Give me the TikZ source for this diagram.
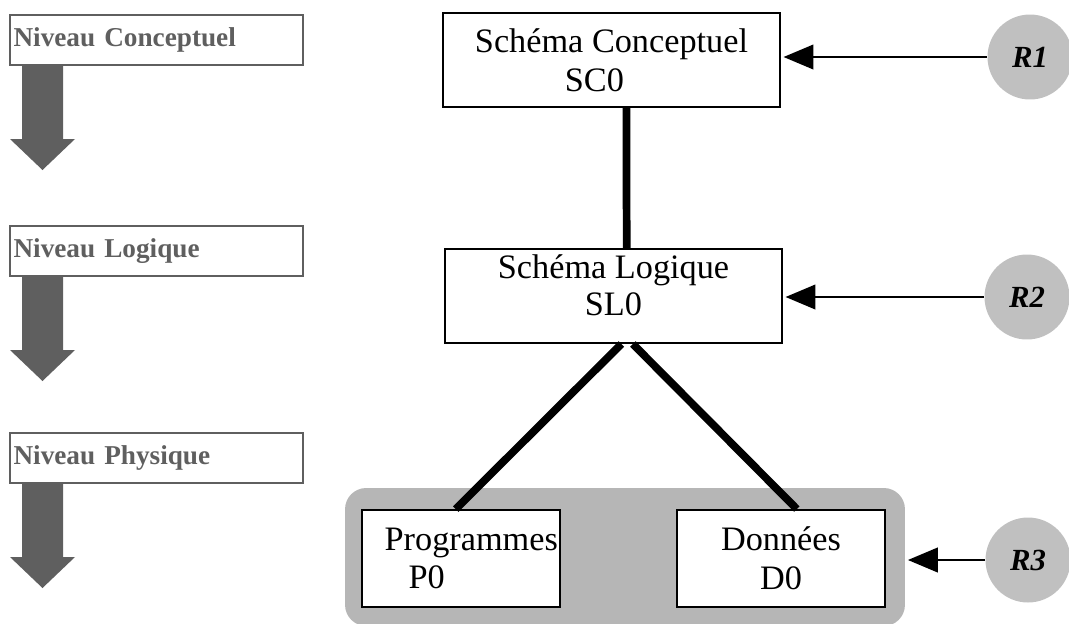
\documentclass[tikz,border=0pt]{standalone}
\usepackage{fontspec}
\setmainfont{Liberation Serif}
\definecolor{levelgray}{RGB}{95, 95, 95}
\definecolor{physgray}{RGB}{182, 182, 182}
\definecolor{refgray}{RGB}{192, 192, 192}
\usetikzlibrary{arrows.meta, positioning, calc}
\tikzset{
  levelbox/.style={draw=levelgray, line width=1.4pt, fill=white, text=levelgray,
    font=\fontsize{15.5}{18}\selectfont\bfseries, text width=5.72cm, inner xsep=2pt,
    minimum height=1cm, align=left},
  levelarrow/.style={fill=levelgray},
  schemabox/.style={draw, line width=1.1pt, fill=white, font=\fontsize{19.5}{22}\selectfont,
    align=center, inner sep=0pt},
  refnode/.style={circle, fill=refgray, minimum size=1.7cm, inner sep=0pt,
    font=\fontsize{17.5}{20}\selectfont\bfseries\itshape},
  refarrow/.style={-{Triangle[length=17pt, width=14pt]}, line width=1.2pt, shorten >=1.5pt},
  linkline/.style={line width=4.4pt}
}
\begin{document}
\begin{tikzpicture}[x=0.02cm, y=-0.02cm]
  \useasboundingbox (0,0) rectangle (1069,623);

  % Levels
  \foreach \name/\txt/\top/\tip in {lc/Niveau Conceptuel/15/170, ll/Niveau Logique/226/381, lp/Niveau Physique/433/588} {
    \fill[levelarrow] (22,\top+48) -- (63,\top+48) -- (63,\tip-31) -- (75,\tip-31) -- (42.5,\tip)
      -- (10,\tip-31) -- (22,\tip-31) -- cycle;
    \node[levelbox] (\name) at (156.5,\top+25) {\txt};
  }

  % Physical area
  \node[fill=physgray, rounded corners=12pt, minimum width=11.2cm, minimum height=2.76cm] (phys) at (625,557) {};

  % Schemas
  \node[schemabox, minimum width=6.74cm, minimum height=1.88cm] (sc) at (611.5,60) {Schéma Conceptuel\\SC0\makebox[1em]{}};
  \node[schemabox, minimum width=6.74cm, minimum height=1.88cm, text depth=12pt] (sl) at (613.5,296) {Schéma Logique\\[-1pt]SL0};
  \node[schemabox, minimum width=3.96cm, minimum height=1.94cm] (prog) at (461,558.5) {\makebox[0.6em]{}Programmes\\P0\makebox[2em]{}};
  \node[schemabox, minimum width=4.16cm, minimum height=1.94cm] (don) at (781,558.5) {Données\\D0};

  \draw[linkline] ([xshift=8.5pt]sc.south) -- ([xshift=7.5pt]sl.north);
  \draw[linkline] ([xshift=4.5pt]sl.south) -- ([xshift=-3pt]prog.north);
  \draw[linkline] ([xshift=11pt]sl.south) -- ([xshift=9pt]don.north);

  % References
  \node[refnode] (r1) at (1030,57) {R1};
  \node[refnode] (r2) at (1027,297) {R2};
  \node[refnode] (r3) at (1028,560) {R3};

  \draw[refarrow] (r1.west) -- (r1.west -| sc.east);
  \draw[refarrow] (r2.west) -- (r2.west -| sl.east);
  \draw[refarrow] (r3.west) -- (r3.west -| phys.east);
\end{tikzpicture}
\end{document}
